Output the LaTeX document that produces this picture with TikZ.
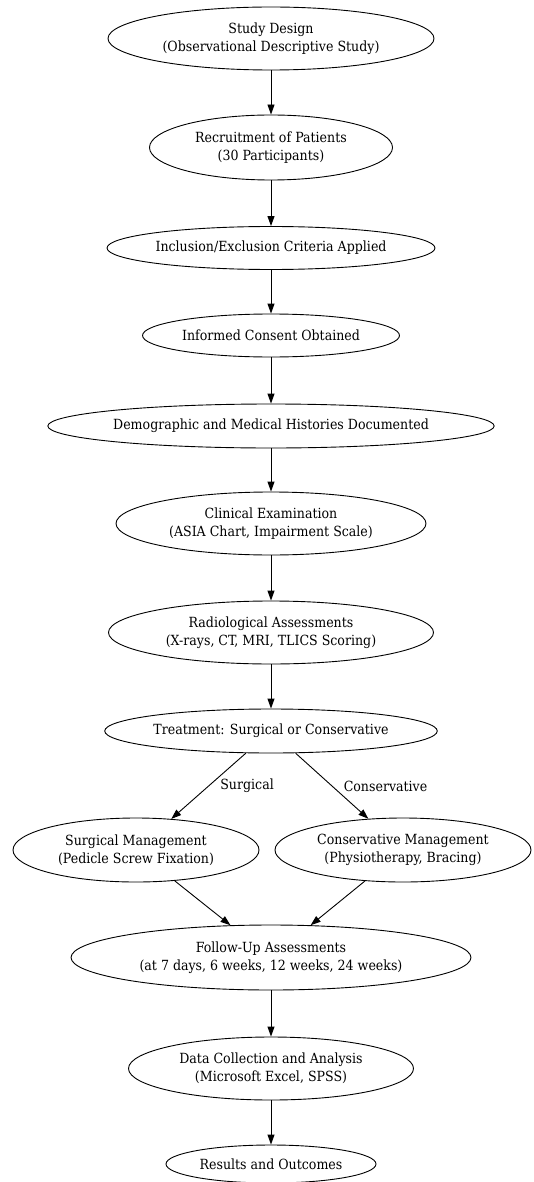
\documentclass[tikz,border=0pt]{standalone}
\usepackage{fontspec}
\setmainfont{DejaVu Serif Condensed}
\usetikzlibrary{shapes.geometric,arrows.meta}

\begin{document}
\begin{tikzpicture}[x=1pt,y=-1pt,>={Triangle[length=10pt,width=7pt]},
  stage/.style={ellipse,draw,line width=0.9pt,inner sep=0pt,align=center,font=\fontsize{14}{18}\selectfont},
  flow/.style={->,line width=0.9pt},
  lbl/.style={font=\fontsize{14}{18}\selectfont}]
\useasboundingbox (0,0) rectangle (533,1182);
\node[stage,minimum width=326pt,minimum height=63pt] (design) at (271,38.5) {Study Design\\(Observational Descriptive Study)};
\node[stage,minimum width=243pt,minimum height=65pt] (recruit) at (271,147.5) {Recruitment of Patients\\(30 Participants)};
\node[stage,minimum width=328pt,minimum height=43pt] (criteria) at (271,248) {Inclusion/Exclusion Criteria Applied};
\node[stage,minimum width=257pt,minimum height=43pt] (consent) at (271,335.5) {Informed Consent Obtained};
\node[stage,minimum width=437pt,minimum height=44pt] (history) at (271,426) {Demographic and Medical Histories Documented};
\node[stage,minimum width=310pt,minimum height=63pt] (clinical) at (271,523.5) {Clinical Examination\\(ASIA Chart, Impairment Scale)};
\node[stage,minimum width=325pt,minimum height=63pt] (radio) at (271,632.5) {Radiological Assessments\\(X-rays, CT, MRI, TLICS Scoring)};
\node[stage,minimum width=331pt,minimum height=44pt] (treat) at (271,731) {Treatment: Surgical or Conservative};
\node[stage,minimum width=246pt,minimum height=64pt] (surg) at (136,850) {Surgical Management\\(Pedicle Screw Fixation)};
\node[stage,minimum width=256pt,minimum height=64pt] (cons) at (403,850) {Conservative Management\\(Physiotherapy, Bracing)};
\node[stage,minimum width=400pt,minimum height=65pt] (followup) at (271,957.5) {Follow-Up Assessments\\(at 7 days, 6 weeks, 12 weeks, 24 weeks)};
\node[stage,minimum width=285pt,minimum height=63pt] (data) at (271,1068.5) {Data Collection and Analysis\\(Microsoft Excel, SPSS)};
\node[stage,minimum width=210pt,minimum height=38pt] (results) at (271,1164) {Results and Outcomes};
\draw[flow] (design) -- (recruit);
\draw[flow] (recruit) -- (criteria);
\draw[flow] (criteria) -- (consent);
\draw[flow] (consent) -- (history);
\draw[flow] (history) -- (clinical);
\draw[flow] (clinical) -- (radio);
\draw[flow] (radio) -- (treat);
\draw[flow] (treat) -- (surg) node[lbl,midway,right=8pt] {Surgical};
\draw[flow] (treat) -- (cons) node[lbl,midway,right=8pt] {Conservative};
\draw[flow] (surg) -- (followup);
\draw[flow] (cons) -- (followup);
\draw[flow] (followup) -- (data);
\draw[flow] (data) -- (results);
\end{tikzpicture}
\end{document}
